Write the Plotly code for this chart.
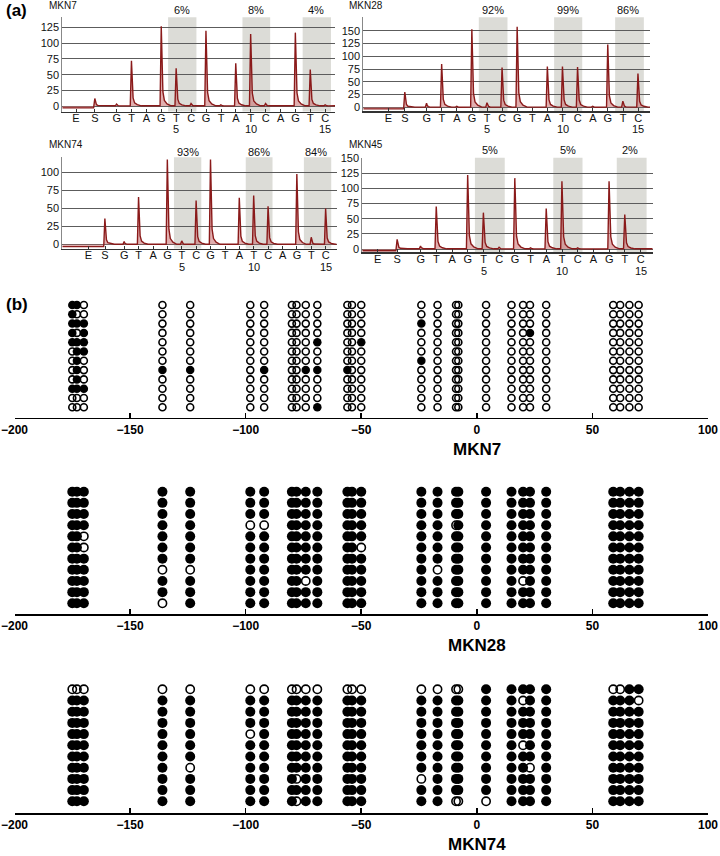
import plotly.graph_objects as go

# ---------------- DATA ----------------
dispensation = ["G", "T", "A", "G", "T", "C", "G", "T", "A", "T", "C", "A", "G", "T", "C"]
position_numbers = {5: "5", 10: "10", 15: "15"}

mkn7_peaks = [3, 72, 0, 127, 60, 4, 120, 2, 68, 115, 4, 0, 117, 58, 2]
mkn7_s = 12
mkn7_pct = ["6%", "8%", "4%"]

mkn28_peaks = [8, 85, 2, 153, 9, 78, 158, 1, 80, 80, 79, 2, 123, 12, 66]
mkn28_s = 30
mkn28_pct = ["92%", "99%", "86%"]

mkn74_peaks = [4, 66, 1, 118, 5, 61, 118, 0, 65, 68, 53, 0, 98, 10, 50]
mkn74_s = 36
mkn74_pct = ["93%", "86%", "84%"]

mkn45_peaks = [5, 70, 1, 122, 60, 3, 117, 2, 67, 112, 2, 0, 112, 57, 1]
mkn45_s = 16
mkn45_pct = ["5%", "5%", "2%"]

# CpG site positions relative to transcription start (bp)
cpg_positions = [-175, -173, -170, -136, -124, -98, -92, -80, -78, -74, -69,
                 -56, -54, -50, -24, -17, -9, -8, 4, 15, 20, 23, 30, 59, 62, 66, 70]

# 1 = methylated (filled), 0 = unmethylated (open); one string per clone
mkn7_clones = [
    "110 00 00 0000 000 00 00 0 0000 0000",
    "100 00 00 0000 000 00 00 0 0000 0000",
    "111 00 00 0000 000 10 00 0 0000 0000",
    "101 00 00 0000 000 00 00 0 0010 0000",
    "111 00 00 0001 001 00 00 0 0000 0000",
    "011 00 00 0000 000 00 00 0 0000 0000",
    "010 00 00 0000 000 10 00 0 0000 0000",
    "010 11 01 0011 100 00 00 0 0000 0000",
    "010 00 00 0000 000 00 00 0 0000 0000",
    "111 00 00 0000 000 00 00 0 0000 0000",
    "000 00 00 0000 000 00 00 0 0000 0000",
    "000 00 00 0001 000 00 00 0 0000 0000",
]
mkn28_clones = [
    "111 11 11 1111 111 11 11 1 1111 1111",
    "111 11 11 1111 111 11 11 1 1111 1111",
    "111 11 11 1111 111 11 11 1 1111 1111",
    "111 11 00 1111 111 11 01 1 1111 1111",
    "110 11 11 1111 111 11 11 1 1111 1111",
    "110 11 11 1111 110 11 11 1 1111 1111",
    "111 11 11 1111 111 11 11 1 1111 1111",
    "111 00 11 1111 111 10 11 1 1111 1111",
    "111 11 11 1101 111 11 11 1 1011 1111",
    "111 11 11 1111 111 11 11 1 1111 1111",
    "111 01 11 1111 111 11 11 1 1111 1111",
]
mkn74_clones = [
    "000 00 00 0000 000 00 00 1 1111 0011",
    "111 11 11 1111 111 11 11 1 1011 1110",
    "111 11 11 1111 111 11 11 1 1111 1111",
    "111 11 11 1111 111 11 11 1 1111 1111",
    "111 11 01 1111 111 11 11 1 1111 1111",
    "111 11 11 1111 111 11 11 1 1011 1111",
    "111 11 11 1111 111 11 11 1 1111 1111",
    "111 10 11 1111 111 11 11 1 1101 1111",
    "111 11 11 1011 111 01 11 1 1111 1111",
    "111 11 11 1111 111 11 11 1 1111 1111",
    "111 11 11 1011 111 11 00 0 1111 1111",
]
axis_ticks = [-200, -150, -100, -50, 0, 50, 100]

# ---------------- LAYOUT HELPERS ----------------
W, H = 720, 856
def px(x):
    return x / W
def py(y):
    return 1 - y / H

FONT = "Liberation Sans, Arial, sans-serif"
NARROW = "Liberation Sans Narrow, Arial Narrow, Liberation Sans, Arial, sans-serif"
RED = "#8a1a1a"

fig = go.Figure()
annotations = []
shapes = []

pyro_panels = [
    # name, peaks, s, pct, left, right, p1, spacing, top, axis, zero_px, px_per_unit, E, S, title_x, title_y, pct_y, num_y
    ("MKN7", mkn7_peaks, mkn7_s, mkn7_pct, 62.3, 335, 116.7, 14.9, 17.3, 111.5, 106, 0.627, -1.73, -0.46, 47, 5, 10, 129),
    ("MKN28", mkn28_peaks, mkn28_s, mkn28_pct, 363.3, 650, 426.7, 15.1, 17.3, 111.0, 107.3, 0.51, -1.54, -0.44, 347, 5, 10, 129),
    ("MKN74", mkn74_peaks, mkn74_s, mkn74_pct, 62.3, 336.7, 124.3, 14.39, 157.3, 248.5, 244.5, 0.72, -1.5, -0.34, 47, 145, 151.5, 267),
    ("MKN45", mkn45_peaks, mkn45_s, mkn45_pct, 362.3, 652.7, 420.7, 15.71, 157.7, 252.0, 249, 0.6056, -1.74, -0.49, 347, 145, 150.5, 271),
]
box_ranges = [(4.45, 6.35), (9.44, 11.3), (13.48, 15.38)]
box_centers_pct = [5.4, 10.35, 14.35]


def add_peak(xs, ys, p, h, base_before, base_after):
    xs += [p - 0.09, p - 0.01, p + 0.04, p + 0.1, p + 0.2, p + 0.38, p + 0.65]
    ys += [base_before, h, h * 0.42, h * 0.18, h * 0.07, h * 0.025 + base_after, base_after]


for i, (name, peaks, s_h, pct, left, right, p1, sp, top, axis, zpx, ppu, e_pos, s_pos, tx, ty, pcty, numy) in enumerate(pyro_panels):
    k = i + 1
    sfx = str(k) if k > 1 else ""
    xr = [1 + (left - p1) / sp, 1 + (right - p1) / sp]
    yr = [(zpx - axis) / ppu, (zpx - top) / ppu]
    xs = [xr[0], s_pos - 0.1]
    ys = [-3, -3]
    add_peak(xs, ys, s_pos, s_h, -3, 0.3)
    for j, h in enumerate(peaks):
        add_peak(xs, ys, j + 1, h, 0.3, 0.3)
    xs.append(xr[1])
    ys.append(0.3)
    fig.add_trace(go.Scatter(x=xs, y=ys, mode="lines", line=dict(color=RED, width=1.4),
                             fill="tozeroy", fillcolor="rgba(200,110,110,0.55)",
                             hoverinfo="skip", showlegend=False, xaxis="x" + sfx, yaxis="y" + sfx))
    tickvals = [e_pos, s_pos] + list(range(1, 16))
    ticktext = ["E", "S"] + dispensation
    xa = dict(domain=[px(left), px(right)], range=xr, showgrid=False, zeroline=False,
              showline=True, linecolor="#333", linewidth=1.5, ticks="inside", ticklen=3,
              tickcolor="#333", tickvals=tickvals, ticktext=ticktext, automargin=False,
              ticklabelstandoff=-4,
              tickfont=dict(family=FONT, size=11, color="#111"), anchor="y" + sfx,
              fixedrange=True)
    ya = dict(domain=[py(axis), py(top)], range=yr, showgrid=True, gridcolor="#5c5c5c", gridwidth=1,
              zeroline=False, showline=True, linecolor="#888", linewidth=1, ticks="", automargin=False,
              tickvals=[0, 25, 50, 75, 100, 125, 150], tickfont=dict(family=FONT, size=11, color="#111"),
              anchor="x" + sfx, fixedrange=True)
    fig.layout["xaxis" + sfx] = xa
    fig.layout["yaxis" + sfx] = ya
    xref = "x" + sfx
    yref = "y" + sfx
    for (b0, b1) in box_ranges:
        shapes.append(dict(type="rect", xref=xref, yref=yref + " domain", x0=b0, x1=b1, y0=0, y1=1,
                           fillcolor="#dcdcd7", line=dict(width=0), layer="below"))
    for c, t in zip(box_centers_pct, pct):
        annotations.append(dict(x=c, y=py(pcty), xref=xref, yref="paper", text=t, showarrow=False,
                                font=dict(family=FONT, size=11, color="#111"), xanchor="center", yanchor="middle"))
    for n, lab in position_numbers.items():
        annotations.append(dict(x=n, y=py(numy), xref=xref, yref="paper", text=lab, showarrow=False,
                                font=dict(family=FONT, size=11, color="#111"), xanchor="center", yanchor="middle"))
    annotations.append(dict(x=px(tx), y=py(ty), xref="paper", yref="paper", text=name, showarrow=False,
                            font=dict(family=FONT, size=10, color="#111"), xanchor="left", yanchor="middle"))

# ---------------- PANEL (b) ----------------
meth_panels = [
    # name, clones, first_row_px, row_spacing, axis_px, top_px, filled_size, open_size, title_y
    ("MKN7", mkn7_clones, 305, 9.3, 417.7, 293, 8.5, 7, 449),
    ("MKN28", mkn28_clones, 491.7, 11.16, 614, 480, 10, 8.3, 645),
    ("MKN74", mkn74_clones, 689.3, 11.2, 813, 678, 10, 8.3, 844),
]
for i, (name, clones, first, sp, axis, top, fsz, osz, ty) in enumerate(meth_panels):
    k = 5 + i
    xref, yref = "x%d" % k, "y%d" % k
    fx, fy, ox, oy = [], [], [], []
    for r, row in enumerate(clones):
        bits = row.replace(" ", "")
        for pos, b in zip(cpg_positions, bits):
            if b == "1":
                fx.append(pos); fy.append(r)
            else:
                ox.append(pos); oy.append(r)
    fig.add_trace(go.Scatter(x=ox, y=oy, mode="markers", xaxis=xref, yaxis=yref, showlegend=False,
                             hoverinfo="skip",
                             marker=dict(symbol="circle-open", size=osz, color="black", line=dict(width=1.6, color="black"))))
    fig.add_trace(go.Scatter(x=fx, y=fy, mode="markers", xaxis=xref, yaxis=yref, showlegend=False,
                             hoverinfo="skip",
                             marker=dict(symbol="circle", size=fsz, color="black", line=dict(width=0))))
    fig.layout["xaxis%d" % k] = dict(domain=[px(14.5), px(708)], range=[-200, 100], showgrid=False,
                                     zeroline=False, showline=True, linecolor="black", linewidth=1.6,
                                     ticks="inside", ticklen=5, tickwidth=1.6, tickcolor="black",
                                     tickvals=axis_ticks, automargin=False,
                                     ticktext=[("\u2212" + str(-t)) if t < 0 else str(t) for t in axis_ticks],
                                     tickfont=dict(family=NARROW, size=12, color="black", weight="bold"),
                                     anchor=yref, fixedrange=True)
    fig.layout["yaxis%d" % k] = dict(domain=[py(axis), py(top)],
                                     range=[(axis - first) / sp, (top - first) / sp],
                                     visible=False, anchor=xref, fixedrange=True, automargin=False)
    annotations.append(dict(x=0, y=py(ty), xref=xref, yref="paper", text="<b>%s</b>" % name, showarrow=False,
                            font=dict(family=NARROW, size=17, color="black"), xanchor="center", yanchor="middle"))

annotations.append(dict(x=px(4), y=py(11), xref="paper", yref="paper", text="<b>(a)</b>", showarrow=False,
                        font=dict(family=FONT, size=17, color="black"), xanchor="left", yanchor="middle"))
annotations.append(dict(x=px(4), y=py(304), xref="paper", yref="paper", text="<b>(b)</b>", showarrow=False,
                        font=dict(family=FONT, size=17, color="black"), xanchor="left", yanchor="middle"))

fig.update_layout(template="none", width=W, height=H, margin=dict(l=0, r=0, t=0, b=0, pad=0),
                  paper_bgcolor="white", plot_bgcolor="white",
                  annotations=annotations, shapes=shapes, showlegend=False)

fig.write_html("out.html", config={"displayModeBar": False, "staticPlot": True},
               post_script="document.body.style.margin='0';document.body.style.padding='0';document.documentElement.style.overflow='hidden';")
